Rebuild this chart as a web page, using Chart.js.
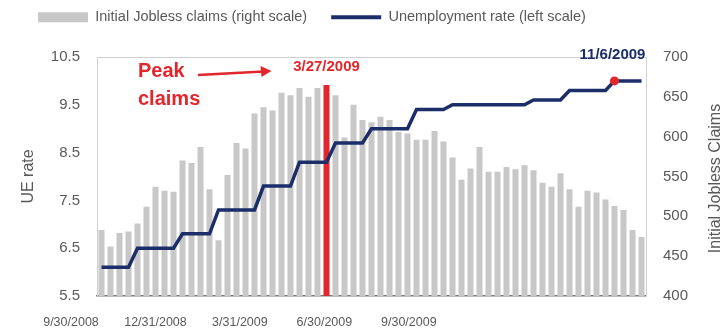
<!DOCTYPE html>
<html>
<head>
<meta charset="utf-8">
<script src="https://cdn.jsdelivr.net/npm/chart.js@4/dist/chart.umd.min.js"></script>
<style>
  html, body { margin: 0; padding: 0; background: #fff; }
  #wrap { width: 725px; height: 329px; }
</style>
</head>
<body>
<div id="wrap"><canvas id="chart"></canvas></div>
<script>
// weekly observations, week ending dates
const weeks = [
  '10/3/2008', '10/10/2008', '10/17/2008', '10/24/2008', '10/31/2008',
  '11/7/2008', '11/14/2008', '11/21/2008', '11/28/2008',
  '12/5/2008', '12/12/2008', '12/19/2008', '12/26/2008',
  '1/2/2009', '1/9/2009', '1/16/2009', '1/23/2009', '1/30/2009',
  '2/6/2009', '2/13/2009', '2/20/2009', '2/27/2009',
  '3/6/2009', '3/13/2009', '3/20/2009', '3/27/2009',
  '4/3/2009', '4/10/2009', '4/17/2009', '4/24/2009',
  '5/1/2009', '5/8/2009', '5/15/2009', '5/22/2009', '5/29/2009',
  '6/5/2009', '6/12/2009', '6/19/2009', '6/26/2009',
  '7/3/2009', '7/10/2009', '7/17/2009', '7/24/2009', '7/31/2009',
  '8/7/2009', '8/14/2009', '8/21/2009', '8/28/2009',
  '9/4/2009', '9/11/2009', '9/18/2009', '9/25/2009',
  '10/2/2009', '10/9/2009', '10/16/2009', '10/23/2009', '10/30/2009',
  '11/6/2009', '11/13/2009', '11/20/2009', '11/27/2009'
];

// initial jobless claims, thousands
const claims = [
  483, 462, 479, 481, 491,
  512, 537, 532, 531,
  570, 567, 587, 534,
  470, 552, 592, 585, 629,
  637, 633, 655, 652,
  661, 650, 661, 665,
  652, 599, 640, 621,
  618, 625, 621, 606, 604,
  596, 596, 607, 594,
  574, 546, 560, 587, 556,
  556, 562, 559, 564,
  558, 542, 537, 554,
  534, 512, 532, 530, 521,
  513, 508, 483, 474
];

// unemployment rate, %
const ueRate = [
  6.1, 6.1, 6.1, 6.1, 6.5,
  6.5, 6.5, 6.5, 6.5,
  6.8, 6.8, 6.8, 6.8,
  7.3, 7.3, 7.3, 7.3, 7.3,
  7.8, 7.8, 7.8, 7.8,
  8.3, 8.3, 8.3, 8.3,
  8.7, 8.7, 8.7, 8.7,
  9.0, 9.0, 9.0, 9.0, 9.0,
  9.4, 9.4, 9.4, 9.4,
  9.5, 9.5, 9.5, 9.5, 9.5,
  9.5, 9.5, 9.5, 9.5,
  9.6, 9.6, 9.6, 9.6,
  9.8, 9.8, 9.8, 9.8, 9.8,
  10.0, 10.0, 10.0, 10.0
];

const xTickLabels = ['9/30/2008', '12/31/2008', '3/31/2009', '6/30/2009', '9/30/2009'];
const ueTicks = [5.5, 6.5, 7.5, 8.5, 9.5, 10.5];
const claimTicks = [400, 450, 500, 550, 600, 650, 700];

const peakWeek = '3/27/2009';
const latestWeek = '11/6/2009';

const FONT = "'Liberation Sans', Arial, sans-serif";
const GRAY_BAR = '#c8c8c8';
const RED = '#e2262b';
const NAVY = '#1b2e6a';
const TEXT = '#595959';
const FRAME = '#d0d0d0';

const barColors = weeks.map(w => w === peakWeek ? RED : GRAY_BAR);
const dotRadius = weeks.map(w => w === latestWeek ? 4.5 : 0);

// legend: fixed height, moved to the top-left corner
const legendPlacement = {
  id: 'legendPlacement',
  beforeInit(chart) {
    const fit = chart.legend.fit;
    chart.legend.fit = function () {
      fit.call(this);
      this.height = 57;
    };
  },
  afterLayout(chart) {
    chart.legend.left = 14;
    chart.legend.top = -14;
  }
};

// "Peak claims" callout, arrow, date labels and the right axis title
const callouts = {
  id: 'callouts',
  afterDatasetsDraw(chart) {
    const { ctx, chartArea, scales: { x, y2 } } = chart;
    const peakX = x.getPixelForValue(weeks.indexOf(peakWeek));
    const lastX = x.getPixelForValue(weeks.indexOf(latestWeek));
    ctx.save();

    ctx.fillStyle = RED;
    ctx.font = `bold 20px ${FONT}`;
    ctx.textAlign = 'left';
    ctx.textBaseline = 'alphabetic';
    ctx.fillText('Peak', chartArea.left + 41, chartArea.top + 20);
    ctx.fillText('claims', chartArea.left + 41, chartArea.top + 48);

    // arrow
    const ax0 = chartArea.left + 101, ay0 = chartArea.top + 18;
    const ax1 = peakX - 55, ay1 = chartArea.top + 14;
    ctx.strokeStyle = RED;
    ctx.lineWidth = 2.5;
    ctx.beginPath();
    ctx.moveTo(ax0, ay0);
    ctx.lineTo(ax1 - 8, ay1 + 0.5);
    ctx.stroke();
    ctx.beginPath();
    ctx.moveTo(ax1, ay1);
    ctx.lineTo(ax1 - 11, ay1 - 5);
    ctx.lineTo(ax1 - 10, ay1 + 6);
    ctx.closePath();
    ctx.fill();

    ctx.font = `bold 15px ${FONT}`;
    ctx.textAlign = 'center';
    ctx.textBaseline = 'middle';
    ctx.fillText(peakWeek, peakX, chartArea.top + 10);

    ctx.fillStyle = NAVY;
    ctx.fillText(latestWeek, lastX - 2, chartArea.top - 2);

    // right axis title, reading bottom to top
    ctx.fillStyle = TEXT;
    ctx.font = `16px ${FONT}`;
    ctx.translate(y2.right - 9, (chartArea.top + chartArea.bottom) / 2 + 2);
    ctx.rotate(-Math.PI / 2);
    ctx.fillText('Initial Jobless Claims', 0, 0);

    ctx.restore();
  }
};

const ctx = document.getElementById('chart').getContext('2d');

new Chart(ctx, {
  data: {
    labels: weeks,
    datasets: [
      {
        type: 'line',
        label: 'Unemployment rate (left scale)',
        data: ueRate,
        yAxisID: 'y',
        borderColor: NAVY,
        backgroundColor: NAVY,
        borderWidth: 3.5,
        tension: 0,
        pointRadius: dotRadius,
        pointBackgroundColor: RED,
        pointBorderColor: RED,
        pointBorderWidth: 0,
        order: 1
      },
      {
        type: 'bar',
        label: 'Initial Jobless claims (right scale)',
        data: claims,
        yAxisID: 'y2',
        backgroundColor: barColors,
        categoryPercentage: 1,
        barPercentage: 0.67,
        order: 2
      }
    ]
  },
  options: {
    responsive: true,
    maintainAspectRatio: false,
    animation: false,
    layout: { padding: { left: 15, right: 0, top: 0, bottom: 0 } },
    plugins: {
      tooltip: { enabled: false },
      legend: {
        position: 'top',
        align: 'start',
        labels: {
          usePointStyle: true,
          pointStyleWidth: 50,
          boxHeight: 10,
          padding: 24,
          color: TEXT,
          font: { family: FONT, size: 14.5 },
          generateLabels: chart => {
            const [line, bars] = chart.data.datasets;
            return [
              { text: bars.label, fillStyle: GRAY_BAR, strokeStyle: GRAY_BAR, lineWidth: 0,
                pointStyle: 'rect', fontColor: TEXT, datasetIndex: 1, hidden: false },
              { text: line.label, fillStyle: NAVY, strokeStyle: NAVY, lineWidth: 4,
                pointStyle: 'line', fontColor: TEXT, datasetIndex: 0, hidden: false }
            ];
          }
        }
      }
    },
    scales: {
      x: { type: 'category', display: false, offset: true },
      xLabels: {
        type: 'linear',
        position: 'bottom',
        min: 0,
        max: 6.5,
        afterBuildTicks: s => { s.ticks = xTickLabels.map((t, i) => ({ value: i })); },
        afterFit: s => { s.height = 33; },
        ticks: {
          callback: (v, i) => xTickLabels[i],
          autoSkip: false,
          maxRotation: 0,
          labelOffset: -26,
          padding: 19,
          color: TEXT,
          font: { family: FONT, size: 12.5 }
        },
        grid: { display: false, drawTicks: false },
        border: { display: true, color: '#7a7a7a', width: 1.5 }
      },
      y: {
        position: 'left',
        min: 5.5,
        max: 10.5,
        afterBuildTicks: s => { s.ticks = ueTicks.map(v => ({ value: v })); },
        afterFit: s => { s.width = 82; },
        ticks: {
          callback: v => v.toFixed(1),
          padding: 17,
          color: TEXT,
          font: { family: FONT, size: 15 }
        },
        grid: {
          drawTicks: false,
          color: c => (c.tick && c.tick.value === 10.5) ? FRAME : 'rgba(0,0,0,0)'
        },
        border: { display: true, color: FRAME, width: 1 },
        title: {
          display: true,
          text: 'UE rate',
          color: TEXT,
          font: { family: FONT, size: 16 },
          padding: { top: 4, bottom: 4 }
        }
      },
      y2: {
        position: 'right',
        min: 400,
        max: 700,
        afterBuildTicks: s => { s.ticks = claimTicks.map(v => ({ value: v })); },
        afterFit: s => { s.width = 79; },
        ticks: {
          padding: 17,
          color: TEXT,
          font: { family: FONT, size: 15 }
        },
        grid: { display: false, drawTicks: false },
        border: { display: true, color: FRAME, width: 1 }
      }
    }
  },
  plugins: [legendPlacement, callouts]
});
</script>
</body>
</html>
